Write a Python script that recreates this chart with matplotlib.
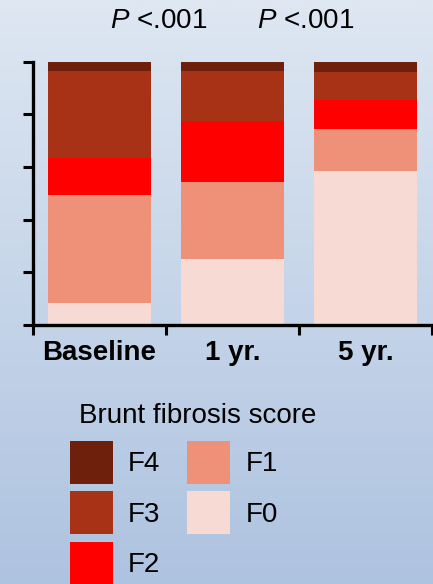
import numpy as np
import matplotlib
matplotlib.use("Agg")
import matplotlib.pyplot as plt

plt.rcParams['font.family'] = ['Liberation Sans', 'DejaVu Sans']
plt.rcParams['mathtext.fontset'] = 'custom'
plt.rcParams['mathtext.it'] = 'Liberation Sans:italic'
plt.rcParams['mathtext.rm'] = 'Liberation Sans'

# data (% of patients per Brunt fibrosis stage)
groups = ['Baseline', '1 yr.', '5 yr.']
stages = ['F0', 'F1', 'F2', 'F3', 'F4']
f0 = [8.5, 25.1, 58.5]
f1 = [40.9, 29.2, 15.9]
f2 = [14.1, 23.2, 11.1]
f3 = [33.0, 19.0, 10.6]
f4 = [3.5, 3.5, 3.9]
pvals = ['<.001', '<.001']

colors = {'F0': '#f7dad3', 'F1': '#ef9078', 'F2': '#ff0000',
          'F3': '#a83216', 'F4': '#6e200d'}

fig = plt.figure(figsize=(4.33, 5.84), dpi=100)

# gradient background
bg = fig.add_axes([0, 0, 1, 1], zorder=-1)
top = np.array([222, 231, 242]) / 255
bot = np.array([174, 195, 224]) / 255
t = np.linspace(0, 1, 256)[:, None]
grad = top[None, :] * (1 - t) + bot[None, :] * t
bg.imshow(grad[:, None, :], aspect='auto', extent=[0, 1, 0, 1])
bg.axis('off')

ax = fig.add_axes([33 / 433, 1 - 325 / 584, 399 / 433, 263.3 / 584])
ax.patch.set_alpha(0)

x = np.arange(len(groups))
bottom = np.zeros(len(groups))
handles = {}
for name, vals in zip(stages, [f0, f1, f2, f3, f4]):
    h = ax.bar(x, vals, 0.774, bottom=bottom, color=colors[name], label=name)
    handles[name] = h
    bottom += np.array(vals)

ax.set_xlim(-0.5, 2.5)
ax.set_ylim(0, 100)
for s in ['top', 'right']:
    ax.spines[s].set_visible(False)
for s in ['left', 'bottom']:
    ax.spines[s].set_linewidth(2.4)

ax.set_yticks(np.arange(0, 101, 20))
ax.set_yticklabels([])
ax.tick_params(axis='y', direction='out', length=7.5, width=2.2)

ax.set_xticks(x)
ax.set_xticklabels(groups, fontsize=20, fontweight='bold')
ax.set_xticks(np.arange(-0.5, 2.6, 1), minor=True)
ax.tick_params(axis='x', which='major', length=0, pad=11)
ax.tick_params(axis='x', which='minor', direction='out', length=7.5, width=2.2)

# p-values between groups
for xp, p in zip([159 / 433, 306 / 433], pvals):
    fig.text(xp, 1 - 28 / 584, r'$\it{P}$ ' + p, ha='center', va='baseline', fontsize=20)

# legend
fig.text(79 / 433, 1 - 423 / 584, 'Brunt fibrosis score', ha='left', va='baseline', fontsize=20)
order = ['F4', 'F3', 'F2', 'F1', 'F0']
leg = fig.legend([handles[k] for k in order], order, ncol=2, frameon=False,
                 fontsize=20, loc='upper left',
                 bbox_to_anchor=(70 / 433, 1 - 441 / 584), borderaxespad=0,
                 handlelength=1.547, handleheight=2.0, handletextpad=0.54,
                 columnspacing=0.97, labelspacing=0.27, borderpad=0)

fig.savefig('out.png', dpi=100)
